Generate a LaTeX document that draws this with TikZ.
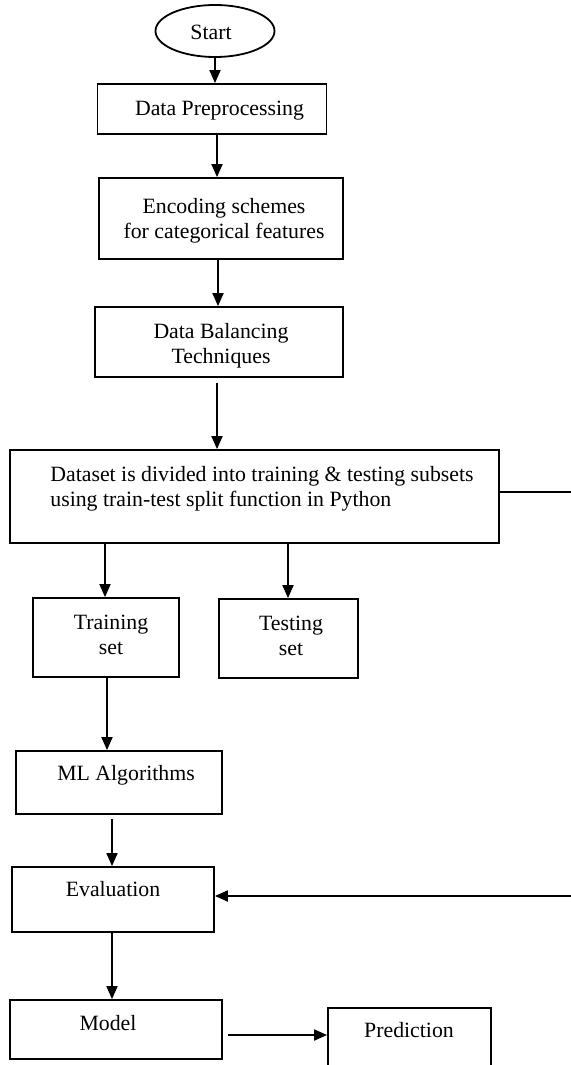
\documentclass[tikz,border=0pt]{standalone}
\usepackage{fontspec}
\setmainfont{Liberation Serif}
\usetikzlibrary{arrows.meta}
\usetikzlibrary{shapes.geometric}

\tikzset{
	box/.style = {draw, line width = 0.9pt, inner sep = 0pt},
	txt/.style = {inner sep = 0pt, align = center, font = \fontsize{10.9}{12.7}\selectfont},
	arr/.style = {line width = 0.9pt, -{Triangle[length = 6.5pt, width = 5.5pt]}}
}

\begin{document}
\begin{tikzpicture}[x = 0.5pt, y = -0.5pt]
				\useasboundingbox (0, 0) rectangle (570, 1065);

				\node[box, ellipse, minimum width = 59.5pt, minimum height = 26pt](start) at (215, 31){};
				\node[box, minimum width = 114.5pt, minimum height = 25pt](prep) at (212, 109){};
				\node[box, minimum width = 122pt, minimum height = 40.5pt](enc) at (221, 218.5){};
				\node[box, minimum width = 124pt, minimum height = 35pt](bal) at (219, 342){};
				\node[box, minimum width = 244.5pt, minimum height = 46.5pt](split) at (254.5, 496.5){};
				\node[box, minimum width = 73pt, minimum height = 39.5pt](train) at (106, 637.5){};
				\node[box, minimum width = 69.5pt, minimum height = 39.5pt](test) at (288.5, 638.5){};
				\node[box, minimum width = 103pt, minimum height = 31.5pt](ml) at (119, 782.5){};
				\node[box, minimum width = 101pt, minimum height = 32.5pt](eval) at (113, 899.5){};
				\node[box, minimum width = 106pt, minimum height = 29.5pt](model) at (116, 1029.5){};
				\node[box, minimum width = 81.5pt, minimum height = 41pt](pred) at (409.5, 1049){};

				\node[txt](starttxt) at (211, 32){Start};
				\node[txt](preptxt) at (219.5, 111){Data Preprocessing};
				\node[txt](enctxt) at (224, 221){Encoding schemes\\for categorical features};
				\node[txt](baltxt) at (221, 346){Data Balancing\\Techniques};
				\node[txt, anchor = west, align = left](splittxt) at (50, 489){Dataset is divided into training \& testing subsets\\using train-test split function in Python};
				\node[txt](traintxt) at (111, 635){Training\\set};
				\node[txt](testtxt) at (291, 636){Testing\\set};
				\node[txt](mltxt) at (126, 775){ML Algorithms};
				\node[txt](evaltxt) at (113, 889){Evaluation};
				\node[txt](modeltxt) at (108, 1023){Model};
				\node[txt](predtxt) at (409, 1030){Prediction};

				\coordinate[](c1) at (217, 0);
				\coordinate[](c2) at (218, 0);
				\coordinate[](c3) at (105, 0);
				\coordinate[](c4) at (107, 0);
				\coordinate[](c5) at (112, 0);
				\coordinate[](c7) at (288, 0);
				\coordinate[](c6) at (0, 1035);
				\coordinate[](r1) at (580, 492);
				\coordinate[](r2) at (580, 896);

				\draw[arr] (start.south)--(start.south |- prep.north);
				\draw[arr] (prep.south -| c1)--(enc.north -| c1);
				\draw[arr] (enc.south -| c2)--(bal.north -| c2);
				\draw[arr, shorten <= 2.5pt] (bal.south -| c1)--(split.north -| c1);
				\draw[arr] (split.south -| c3)--(train.north -| c3);
				\draw[arr] (split.south -| c7)--(test.north -| c7);
				\draw[arr] (train.south -| c4)--(ml.north -| c4);
				\draw[arr, shorten <= 2pt] (ml.south -| c5)--(eval.north -| c5);
				\draw[arr] (eval.south -| c5)--(model.north -| c5);
				\draw[arr, shorten <= 2.5pt] (model.east |- c6)--(pred.west |- c6);
				\draw[arr] (split.east |- r1)--(r1)--(r2)--(eval.east |- r2);
			\end{tikzpicture}
\end{document}
